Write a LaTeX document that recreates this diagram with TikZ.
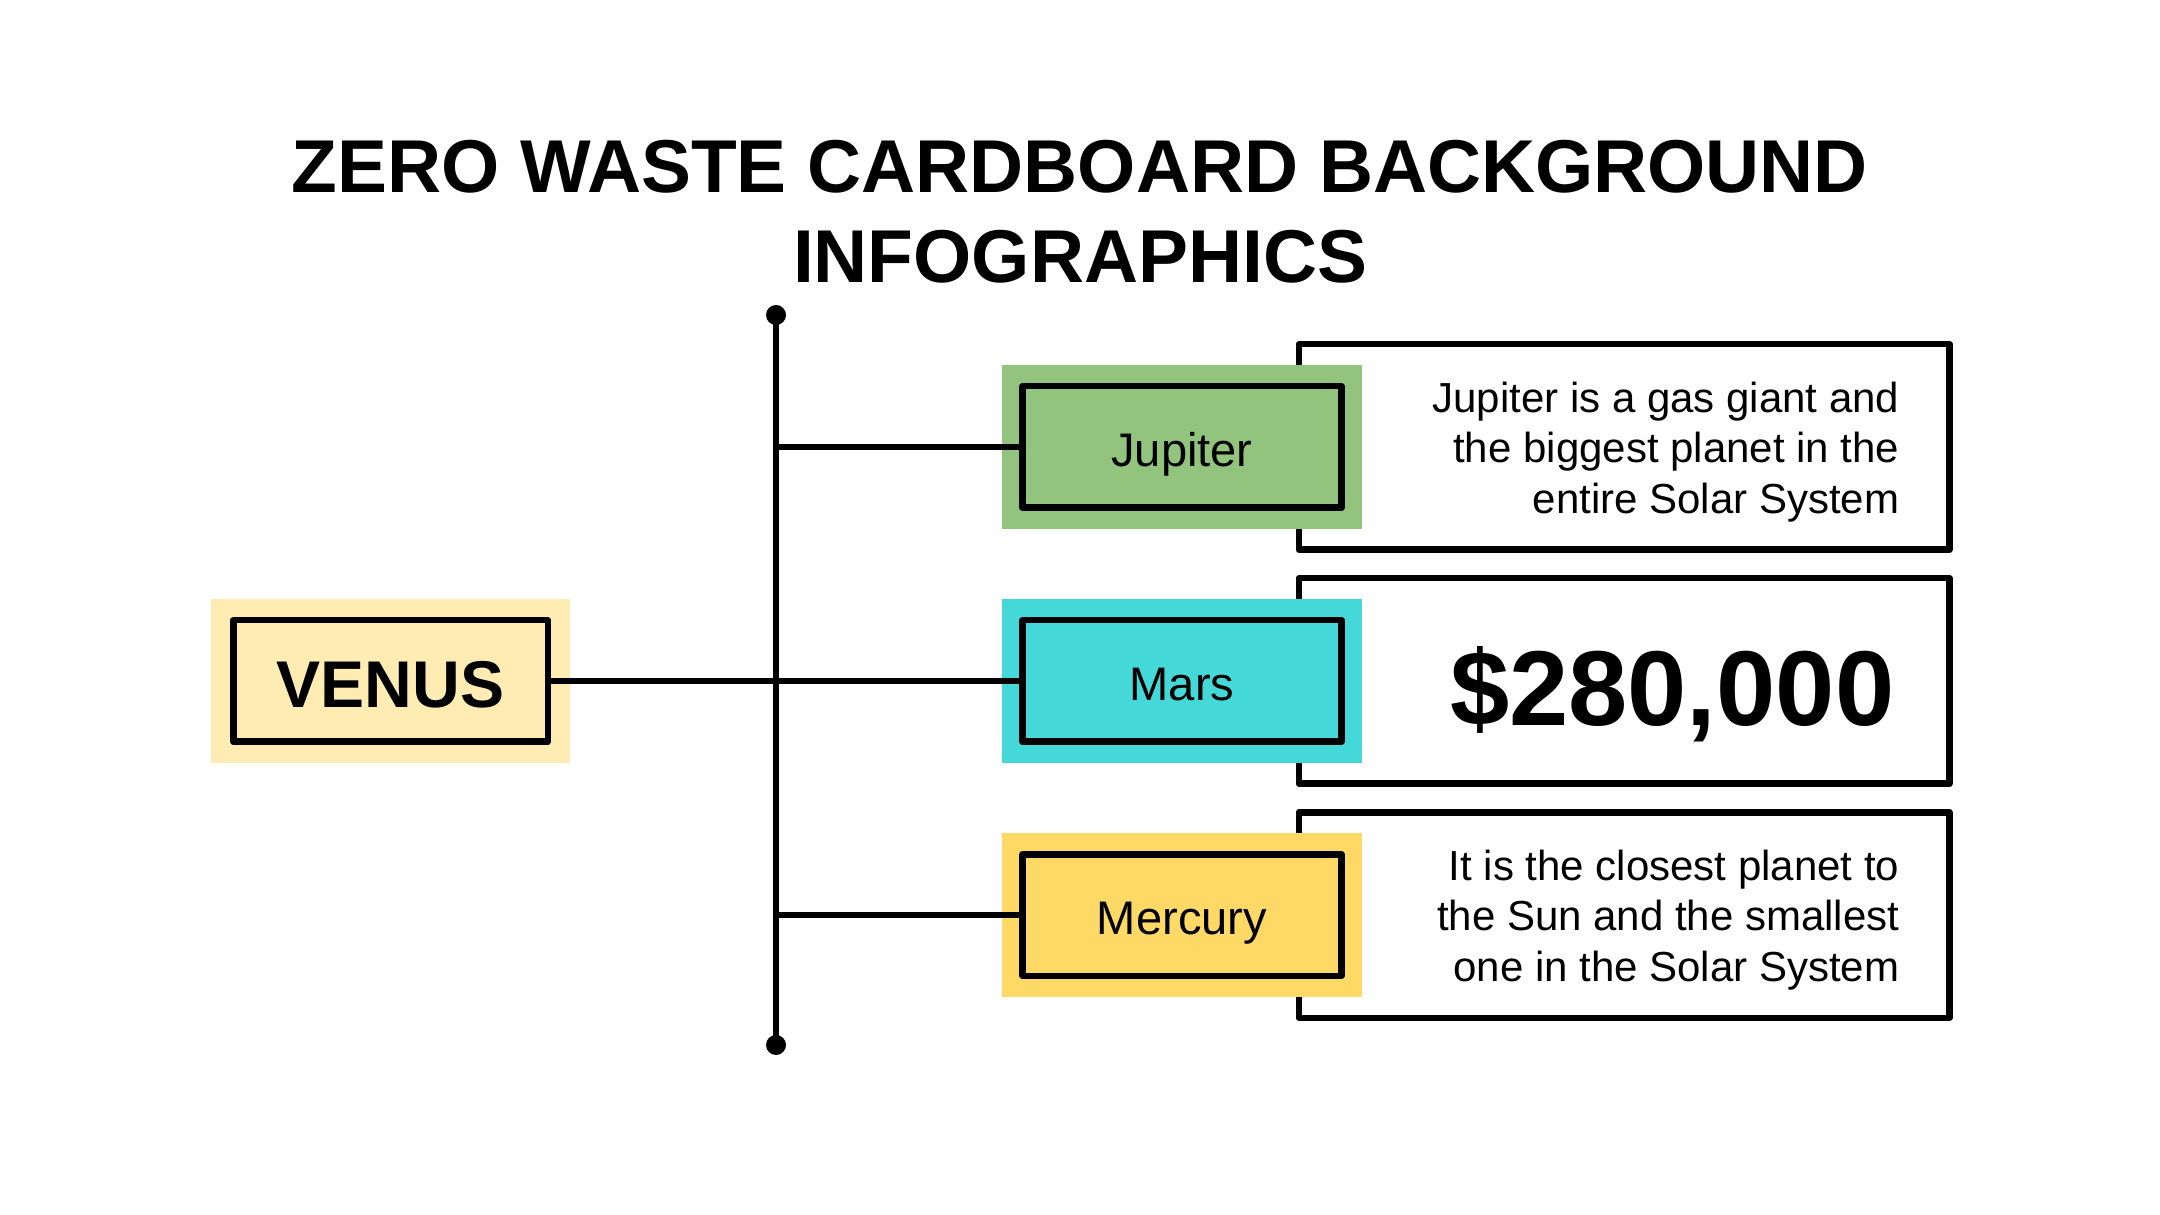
\documentclass[tikz,border=0pt]{standalone}
\usepackage{fontspec}
\setmainfont{Liberation Sans}
\definecolor{jgreen}{HTML}{93C47D}
\definecolor{mcyan}{HTML}{45D8D8}
\definecolor{myellow}{HTML}{FFD966}
\definecolor{vyellow}{HTML}{FFECB3}
\begin{document}
\begin{tikzpicture}[x=0.1mm,y=-0.1mm,
  bg/.style={fill=#1, draw=none, minimum width=36mm, minimum height=16.4mm, inner sep=0},
  inbox/.style={fill=#1, draw=black, line width=1.85pt, line join=round, minimum width=31.9mm, minimum height=12.15mm, inner sep=0, text height=11.2pt, text depth=0pt, font=\fontsize{13.4}{16}\selectfont},
  descbox/.style={fill=white, draw=black, line width=1.85pt, line join=round, minimum width=65.05mm, minimum height=20.55mm, inner sep=0},
  desctext/.style={anchor=north east, align=right, inner sep=0, font=\fontsize{11.95}{14.3}\selectfont},
  titletext/.style={anchor=base, inner sep=0, font=\fontsize{21.3}{25.6}\selectfont\bfseries},
  conn/.style={line width=1.55pt},
]
\useasboundingbox (0,0) rectangle (2160,1215);
\fill[white] (0,0) rectangle (2160,1215);

% title
\node[titletext] (t1) at (1080,193) {ZERO WASTE CARDBOARD BACKGROUND};
\node[titletext] (t2) at (1080,283) {INFOGRAPHICS};

% description boxes
\node[descbox] (dj) at (1624,447) {};
\node[descbox] (dm) at (1624,681) {};
\node[descbox] (dme) at (1624,915) {};

% background squares
\node[bg=jgreen] (bj) at (1182,447) {};
\node[bg=mcyan] (bm) at (1182,681) {};
\node[bg=myellow] (bme) at (1182,915) {};
\node[bg=vyellow, minimum width=35.9mm] (bv) at (390.5,681) {};

% label boxes
\node[inbox=jgreen] (jup) at (1182,447) {Jupiter};
\node[inbox=mcyan] (mars) at (1182,681) {Mars};
\node[inbox=myellow] (merc) at (1182,915) {Mercury};
\node[inbox=vyellow, minimum width=31.45mm, text height=15pt, font=\fontsize{18.8}{22}\selectfont\bfseries] (venus) at (390.5,681) {VENUS};

% texts
\node[desctext] (tj) at (1900,381.5) {Jupiter is a gas giant and\\the biggest planet in the\\entire Solar System};
\node[anchor=base east, inner sep=0, font=\fontsize{30.3}{36}\selectfont\bfseries] (price) at (1895,726) {\$280,000};
\node[desctext] (tme) at (1900,849.5) {It is the closest planet to\\the Sun and the smallest\\one in the Solar System};

% connectors
\coordinate (vtop) at (776,315);
\coordinate (vbot) at (776,1045);
\draw[conn] (vtop) -- (vbot);
\fill (vtop) circle (1mm);
\fill (vbot) circle (1mm);
\draw[conn] (venus.east) -- (mars.west);
\draw[conn] (jup.west -| vtop) -- (jup.west);
\draw[conn] (merc.west -| vtop) -- (merc.west);
\end{tikzpicture}
\end{document}
